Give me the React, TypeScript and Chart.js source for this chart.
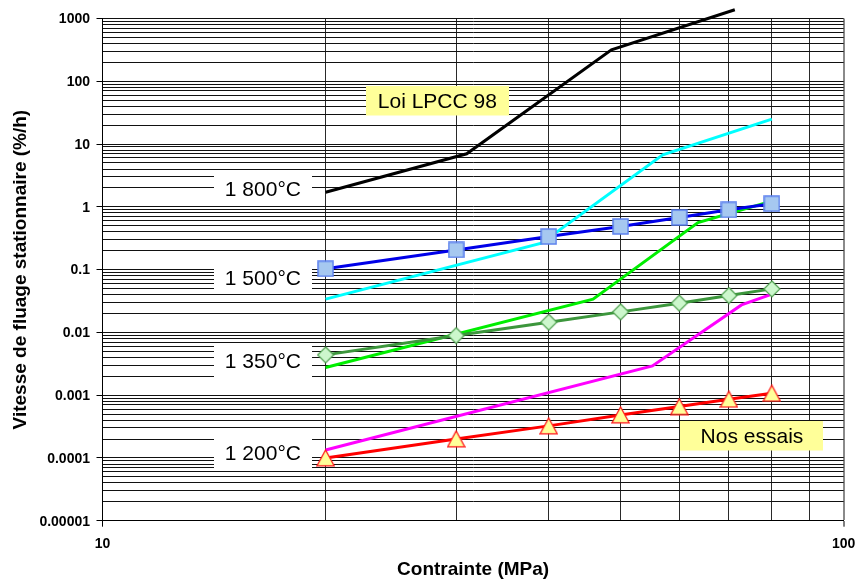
import React, { useEffect, useRef } from "react";
import { Chart, registerables } from "chart.js";

Chart.register(...registerables);

// ---- Data ----
const STRESS_TESTS = [20, 30, 40, 50, 60, 70, 80];
const RATE_1500_TESTS = [0.103, 0.206, 0.336, 0.486, 0.675, 0.896, 1.12];
const RATE_1350_TESTS = [0.00438, 0.00889, 0.0145, 0.0212, 0.0292, 0.0386, 0.0493];
const RATE_1200_TESTS = [0.0001, 0.000201, 0.000324, 0.000484, 0.000657, 0.000861, 0.00107];

const LPCC_1800_X = [20, 31, 48.6, 71.3];
const LPCC_1800_Y = [1.71, 7.0, 318, 1380];
const LPCC_1500_X = [20, 39.1, 57, 80];
const LPCC_1500_Y = [0.0338, 0.264, 6.74, 25];
const LPCC_1350_X = [20, 45.9, 63.6, 79.5];
const LPCC_1350_Y = [0.00275, 0.0338, 0.562, 1.21];
const LPCC_1200_X = [20, 55.2, 72.8, 79.5];
const LPCC_1200_Y = [0.000134, 0.00292, 0.0274, 0.0396];

const X_TICKS = [10, 20, 30, 40, 50, 60, 70, 80, 90, 100];
const X_TICK_LABELS = ["10", "", "", "", "", "", "", "", "", "100"];
const Y_DECADES = [-5, -4, -3, -2, -1, 0, 1, 2, 3];
const Y_MAJOR_LABELS = ["0.00001", "0.0001", "0.001", "0.01", "0.1", "1", "10", "100", "1000"];
const Y_MANTISSAS = [1, 2, 3, 4, 5, 6, 7, 8, 9];

const LABEL_TEXTS = ["1 800°C", "1 500°C", "1 350°C", "1 200°C", "Loi LPCC 98", "Nos essais"];
const LABEL_X = [16.46, 16.46, 16.46, 16.46, 28.3, 75.2];
const LABEL_Y = [1.94, 0.0739, 0.00343, 0.00012, 48.3, 0.000224];

const X_TITLE = "Contrainte (MPa)";
const Y_TITLE = "Vitesse de fluage stationnaire (%/h)";

// ---- helpers ----
const FONT = '"Liberation Sans", Arial, sans-serif';

function buildYTicks(): number[] {
  const out: number[] = [];
  for (let d = 0; d < Y_DECADES.length - 1; d++) {
    for (const m of Y_MANTISSAS) out.push(Number((m * Math.pow(10, Y_DECADES[d])).toPrecision(6)));
  }
  out.push(Math.pow(10, Y_DECADES[Y_DECADES.length - 1]));
  return out;
}
const Y_TICKS = buildYTicks();

function isDecade(v: number) {
  const l = Math.log10(v);
  return Math.abs(l - Math.round(l)) < 1e-9;
}

function pts(xs: number[], ys: number[]) {
  return xs.map((x, i) => ({ x, y: ys[i] }));
}

function makeSquare() {
  const c = document.createElement("canvas");
  c.width = 17; c.height = 17;
  const g = c.getContext("2d")!;
  g.fillStyle = "#a6c8f0";
  g.strokeStyle = "#5b80ee";
  g.lineWidth = 1.5;
  g.fillRect(1, 1, 15, 15);
  g.strokeRect(1, 1, 15, 15);
  return c;
}
function makeDiamond() {
  const c = document.createElement("canvas");
  c.width = 18; c.height = 18;
  const g = c.getContext("2d")!;
  g.beginPath();
  g.moveTo(9, 1); g.lineTo(17, 9); g.lineTo(9, 17); g.lineTo(1, 9); g.closePath();
  g.fillStyle = "#ccf7cc";
  g.fill();
  g.strokeStyle = "#4c9f4c";
  g.lineWidth = 1.2;
  g.stroke();
  return c;
}
function makeTriangle() {
  const c = document.createElement("canvas");
  c.width = 19; c.height = 18;
  const g = c.getContext("2d")!;
  g.beginPath();
  g.moveTo(9.5, 1); g.lineTo(18, 16.8); g.lineTo(1, 16.8); g.closePath();
  g.fillStyle = "#ffff99";
  g.fill();
  g.strokeStyle = "#ff1a1a";
  g.lineWidth = 1.3;
  g.stroke();
  return c;
}

const labelPlugin = {
  id: "textBoxes",
  beforeDatasetsDraw(chart: any) {
    const { ctx, scales } = chart;
    ctx.save();
    ctx.font = `21px ${FONT}`;
    ctx.textAlign = "center";
    ctx.textBaseline = "middle";
    LABEL_TEXTS.forEach((t, i) => {
      const px = scales.x.getPixelForValue(LABEL_X[i]);
      const py = scales.y.getPixelForValue(LABEL_Y[i]);
      const yellow = i >= 4;
      const w = yellow ? 143 : 98;
      const h = yellow ? 29.5 : 31;
      ctx.fillStyle = yellow ? "#ffff99" : "#ffffff";
      ctx.fillRect(Math.round(px - w / 2), Math.round(py - h / 2), w, h);
      ctx.fillStyle = "#000";
      ctx.fillText(t, px, py + 1);
    });
    ctx.restore();
  },
};

export default function App() {
  const ref = useRef<HTMLCanvasElement | null>(null);
  useEffect(() => {
    if (!ref.current) return;
    const square = makeSquare();
    const diamond = makeDiamond();
    const triangle = makeTriangle();
    const lineBase = { borderWidth: 3, pointRadius: 0, tension: 0, clip: false as any, fill: false };
    const marked = (img: HTMLCanvasElement) => ({
      borderWidth: 3, pointRadius: 8, pointStyle: img, tension: 0, clip: false as any, fill: false,
      pointHoverRadius: 8,
    });
    const chart = new Chart(ref.current, {
      type: "line",
      data: {
        datasets: [
          { ...marked(square), label: "1500 essais", data: pts(STRESS_TESTS, RATE_1500_TESTS), borderColor: "#0000e8" },
          { ...marked(diamond), label: "1350 essais", data: pts(STRESS_TESTS, RATE_1350_TESTS), borderColor: "#3c963c" },
          { ...marked(triangle), label: "1200 essais", data: pts(STRESS_TESTS, RATE_1200_TESTS), borderColor: "#ff0000" },
          { ...lineBase, label: "LPCC 1800", data: pts(LPCC_1800_X, LPCC_1800_Y), borderColor: "#000000" },
          { ...lineBase, label: "LPCC 1500", data: pts(LPCC_1500_X, LPCC_1500_Y), borderColor: "#00ffff" },
          { ...lineBase, label: "LPCC 1350", data: pts(LPCC_1350_X, LPCC_1350_Y), borderColor: "#00ee00" },
          { ...lineBase, label: "LPCC 1200", data: pts(LPCC_1200_X, LPCC_1200_Y), borderColor: "#ff00ff" },
        ],
      },
      options: {
        animation: false,
        responsive: false,
        devicePixelRatio: 1,
        maintainAspectRatio: false,
        layout: { padding: { left: 0, right: 13.3, top: 18.5, bottom: 0 } },
        plugins: { legend: { display: false }, tooltip: { enabled: false } },
        events: [],
        scales: {
          x: {
            type: "logarithmic",
            position: "bottom",
            min: 10,
            max: 100,
            afterBuildTicks: (axis: any) => {
              axis.ticks = X_TICKS.map((v) => ({ value: v, major: isDecade(v) }));
            },
            afterFit: (axis: any) => {
              axis.height = 59.3;
              axis.paddingLeft = 0;
              axis.paddingRight = 0;
            },
            ticks: {
              autoSkip: false,
              maxRotation: 0,
              minRotation: 0,
              padding: 9,
              color: "#000",
              font: { family: FONT, size: 14, weight: "bold" },
              callback: (value: any) => {
                const i = X_TICKS.indexOf(Number(value));
                return i >= 0 ? X_TICK_LABELS[i] : "";
              },
            },
            grid: {
              color: (c: any) => (c.tick && c.tick.value === 100 ? "#8a8a8a" : "#2a2a2a"),
              lineWidth: (c: any) => (c.tick && c.tick.value === 100 ? 2 : 1),
              tickColor: (c: any) => (c.tick && isDecade(c.tick.value) ? "#000" : "rgba(0,0,0,0)"),
              tickLength: 6,
              tickWidth: 1,
              drawTicks: true,
            },
            border: { display: true, color: "#000", width: 1 },
            title: {
              display: true,
              text: X_TITLE,
              color: "#000",
              font: { family: FONT, size: 19, weight: "bold", lineHeight: 1.1 },
              padding: { top: 0, bottom: 0 },
            },
          },
          y: {
            type: "logarithmic",
            position: "left",
            min: 1e-5,
            max: 1000,
            afterBuildTicks: (axis: any) => {
              axis.ticks = Y_TICKS.map((v) => ({ value: v, major: isDecade(v) }));
            },
            afterFit: (axis: any) => {
              axis.width = 102.5;
              axis.paddingTop = 0;
              axis.paddingBottom = 0;
            },
            ticks: {
              autoSkip: false,
              padding: 6.5,
              labelOffset: 1,
              color: "#000",
              font: { family: FONT, size: 14, weight: "bold" },
              callback: (value: any) => {
                const v = Number(value);
                if (!isDecade(v)) return "";
                const e = Math.round(Math.log10(v));
                const i = Y_DECADES.indexOf(e);
                return i >= 0 ? Y_MAJOR_LABELS[i] : "";
              },
            },
            grid: {
              color: "#111111",
              lineWidth: 1,
              tickColor: (c: any) => (c.tick && isDecade(c.tick.value) ? "#000" : "rgba(0,0,0,0)"),
              tickLength: 6,
              tickWidth: 1,
              drawTicks: true,
            },
            border: { display: true, color: "#000", width: 1 },
            title: {
              display: true,
              text: Y_TITLE,
              color: "#000",
              font: { family: FONT, size: 19, weight: "bold", lineHeight: 1.1 },
              padding: { top: 10, bottom: 0 },
            },
          },
        },
      } as any,
      plugins: [labelPlugin],
    });
    return () => chart.destroy();
  }, []);
  return (
    <div style={{ position: "fixed", left: 0, top: 0, width: 857, height: 580, background: "#fff" }}>
      <canvas ref={ref} width={857} height={580} style={{ display: "block" }} />
    </div>
  );
}
